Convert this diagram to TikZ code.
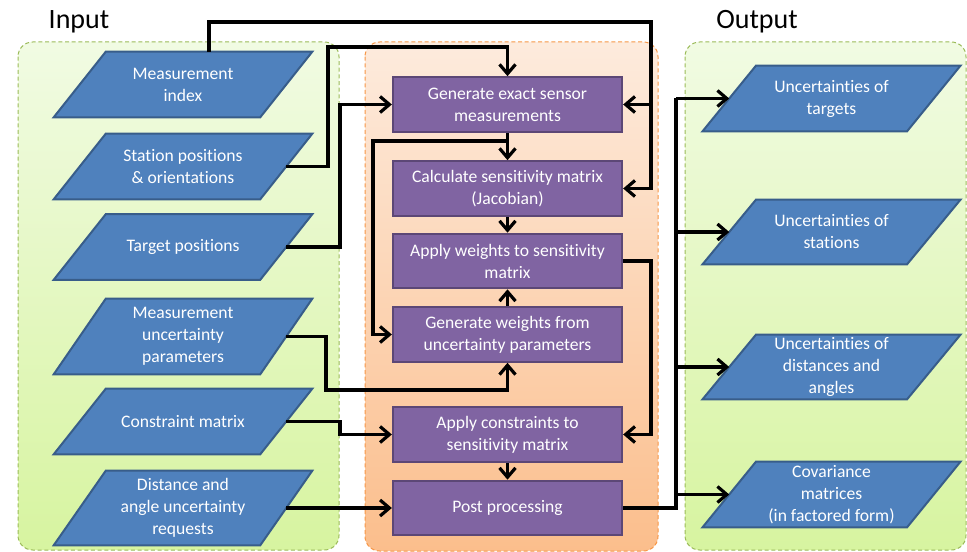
\documentclass[tikz,border=0pt]{standalone}
\usepackage{fontspec}
\setmainfont{Carlito}[Ligatures={NoCommon}]
\usetikzlibrary{arrows.meta}
\definecolor{ioblue}{HTML}{4F81BD}
\definecolor{ioedge}{HTML}{385D8A}
\definecolor{procfill}{HTML}{8064A2}
\definecolor{procedge}{HTML}{5C4776}
\definecolor{gtop}{HTML}{F1FBE3}
\definecolor{gbot}{HTML}{D7F4A0}
\definecolor{gedge}{HTML}{9BBB59}
\definecolor{otop}{HTML}{FDEBDD}
\definecolor{obot}{HTML}{FBBE8C}
\definecolor{oedge}{HTML}{F79646}
\pgfdeclarelayer{panels}
\pgfdeclarelayer{shapes}
\pgfsetlayers{panels,shapes,main}
\begin{document}
\begin{tikzpicture}[x=0.75pt,y=-0.75pt,
  lbl/.style={font=\fontsize{13.2}{16.5}\selectfont, text=white, align=center, inner sep=0pt},
  io/.style={lbl, rectangle, minimum width=154.5pt},
  outio/.style={lbl, rectangle, minimum width=153pt},
  proc/.style={lbl, rectangle, draw=procedge, fill=procfill, line width=1.5pt, minimum width=172pt, minimum height=41pt},
  iopoly/.style={fill=ioblue, draw=ioedge, line width=1.5pt, line join=miter},
  title/.style={font=\fontsize{21}{25}\selectfont, text=black, inner sep=0pt, anchor=base},
  gpanel/.style={draw=gedge, dash pattern=on 3pt off 2pt, line width=0.75pt, rounded corners=11pt, top color=gtop, bottom color=gbot},
  opanel/.style={draw=oedge, dash pattern=on 3pt off 2pt, line width=0.75pt, rounded corners=11pt, top color=otop, bottom color=obot},
  wire/.style={line width=2.4pt, line join=miter},
  conn/.style={wire, -{Straight Barb[length=7pt,width=12pt]}}
]
\useasboundingbox (0,0) rectangle (967,552);

% titles
\node[title] (tin) at (79,29) {Input};
\node[title] (tout) at (757,29) {Output};

% input nodes
\node[io, minimum height=48.75pt] (mi) at (183,84.5) {Measurement\\index};
\node[io, minimum height=48.75pt] (sp) at (183,166.5) {Station positions\\\& orientations};
\node[io, minimum height=48.75pt] (tp) at (183,247) {Target positions};
\node[io, minimum height=56.25pt] (mu) at (183,336.5) {Measurement\\uncertainty\\parameters};
\node[io, minimum height=48.75pt] (cm) at (183,421.5) {Constraint matrix};
\node[io, minimum height=55.5pt] (da) at (183,508) {Distance and\\angle uncertainty\\requests};

% output nodes
\node[outio, minimum height=48.75pt] (ot) at (831.5,98.5) {Uncertainties of\\targets};
\node[outio, minimum height=48pt] (os) at (831.5,232) {Uncertainties of\\stations};
\node[outio, minimum height=48pt] (od) at (831.5,367) {Uncertainties of\\distances and\\angles};
\node[outio, minimum height=48.75pt] (oc) at (831.5,494.5) {Covariance\\matrices\\(in factored form)};

% process nodes
\node[proc] (gen) at (507.5,104.5) {Generate exact sensor\\measurements};
\node[proc] (cs) at (507.5,188.5) {Calculate sensitivity matrix\\(Jacobian)};
\node[proc] (aw) at (507.5,261) {Apply weights to sensitivity\\matrix};
\node[proc] (gw) at (507.5,334.5) {Generate weights from\\uncertainty parameters};
\node[proc] (ac) at (507.5,434.5) {Apply constraints to\\sensitivity matrix};
\node[proc] (pp) at (507.5,508) {Post processing};

\begin{pgfonlayer}{panels}
\draw[gpanel] (18,42) rectangle (339,550);
\draw[opanel] (365,42) rectangle (658,551);
\draw[gpanel] (685,42) rectangle (966,550);
\end{pgfonlayer}

\begin{pgfonlayer}{shapes}
\foreach \n in {mi,sp,tp,mu,cm,da}
  \draw[iopoly] ([xshift=-19.5pt]\n.south west) -- ([xshift=-19.5pt]\n.south east) -- ([xshift=19.5pt]\n.north east) -- ([xshift=19.5pt]\n.north west) -- cycle;
\foreach \n in {ot,os,od,oc}
  \draw[iopoly] ([xshift=-20pt]\n.south west) -- ([xshift=-20pt]\n.south east) -- ([xshift=20pt]\n.north east) -- ([xshift=20pt]\n.north west) -- cycle;
\end{pgfonlayer}

% bend coordinates
\coordinate (r1) at (651,22);
\coordinate (c2) at (328,47);
\coordinate (c3) at (340,0);
\coordinate (c4) at (373,141);
\coordinate (c7) at (326,390);
\coordinate (c12) at (676,0);

% connectors
\draw[conn] ([xshift=19.5pt]mi.north) |- (r1) |- (cs.east);
\draw[conn] (r1 |- gen.east) -- (gen.east);
\draw[conn] (sp.east) -| (c2) -| (gen.north);
\draw[conn] (tp.east) -| (c3 |- gen.west) -- (gen.west);
\draw[conn] (gen.south) -- (cs.north);
\draw[conn] (gen.south |- c4) -- (c4) |- (gw.west);
\draw[conn] (cs.south) -- (aw.north);
\draw[conn] (gw.north) -- (aw.south);
\draw[conn] (mu.east) -| (c7) -| (gw.south);
\draw[conn] (cm.east) -| (c3 |- ac.west) -- (ac.west);
\draw[conn] (aw.east) -| (r1 |- ac.east) -- (ac.east);
\draw[conn] (ac.south) -- (pp.north);
\draw[conn] (da.east) -- (da.east -| pp.west);
\draw[wire] (pp.east) -| (c12 |- ot.west);
\draw[conn] (c12 |- ot.west) -- (ot.west);
\draw[conn] (c12 |- os.west) -- (os.west);
\draw[conn] (c12 |- od.west) -- (od.west);
\draw[conn] (c12 |- oc.west) -- (oc.west);
\end{tikzpicture}
\end{document}
